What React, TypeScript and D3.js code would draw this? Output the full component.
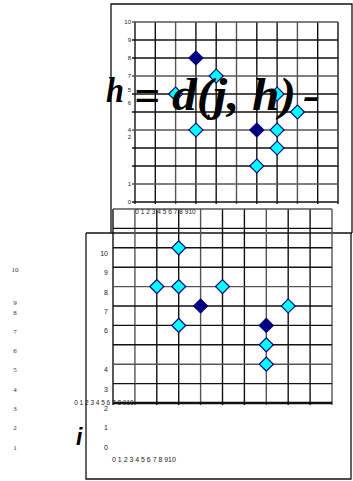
import { useEffect, useRef } from 'react'
import * as d3 from 'd3'

// top panel
const topTicks = [0, 1, 2, 3, 4, 5, 6, 7, 8, 9, 10]
const topYLabels = ['10', '9', '8', '7', '5', '6', '4', '2', '1', '0']
const topYLabelAt = [10, 9, 8, 7, 6.2, 5.5, 4, 3.6, 1, 0]
const topX = [3, 4, 2, 7, 8, 3, 6, 7, 7, 6]
const topY = [8, 7, 6, 6, 5, 4, 4, 4, 3, 2]
const topDark = [true, false, false, false, false, false, true, false, false, false]

// bottom panel
const botYLabels = ['10', '9', '8', '7', '6', '4', '3', '2', '1', '0']
const botYLabelAt = [10, 9, 8, 7, 6, 4, 3, 2, 1, 0]
const botGrid = [2, 3, 4, 5, 6, 7, 8, 9, 10, 11, 12]
const botX = [3, 2, 3, 4, 5, 3, 7, 7, 7, 8]
const botY = [10, 8, 8, 7, 8, 6, 6, 5, 4, 7]
const botDark = [false, false, false, true, false, false, true, false, false, false]

// stray left column
const leftLabels = ['10', '9', '8', '7', '6', '5', '4', '3', '2', '1']
const leftLabelAt = [10.2, 8.5, 8, 7, 6, 5, 4, 3, 2, 1]

const xLabelText = topTicks.map(String)

const App = () => {
  const ref = useRef(null)

  useEffect(() => {
    const width = 353
    const height = 481
    const svg = d3.select(ref.current)
    svg.selectAll('*').remove()
    svg.attr('width', width).attr('height', height)

    const ink = '#111'
    const sans = 'Liberation Sans, Arial, sans-serif'
    const serif = 'Liberation Serif, Times New Roman, serif'
    const diamond = d3.symbol(d3.symbolSquare, 98)

    const frame = (pts) => svg.append('path')
      .attr('d', d3.line()(pts))
      .attr('fill', 'none')
      .attr('stroke', ink)
      .attr('stroke-width', 1.3)

    // frames
    frame([[111, 233], [111, 4], [352, 4], [352, 233]])
    frame([[86, 233], [352, 233]])
    frame([[86, 233], [86, 479], [351, 479], [351, 233]])

    // ----- bottom chart grid (drawn first, sits under the top one)
    const bx = d3.scaleLinear().domain([0, 10]).range([113, 332])
    const by = d3.scaleLinear().domain([2, 12]).range([403, 209])

    svg.append('g').selectAll('line')
      .data(topTicks)
      .enter()
      .append('line')
      .attr('x1', d => bx(d))
      .attr('x2', d => bx(d))
      .attr('y1', by(12))
      .attr('y2', by(2) + 2)
      .attr('stroke', (d, i) => (i % 3 === 1 ? '#555' : ink))
      .attr('stroke-width', 1.4)

    svg.append('g').selectAll('line')
      .data(botGrid)
      .enter()
      .append('line')
      .attr('x1', bx(0))
      .attr('x2', bx(10))
      .attr('y1', d => by(d))
      .attr('y2', d => by(d))
      .attr('stroke', (d, i) => (i % 4 === 2 ? '#555' : ink))
      .attr('stroke-width', d => (d === 2 ? 2.4 : 1.4))

    svg.append('g').selectAll('text')
      .data(botYLabels)
      .enter()
      .append('text')
      .attr('x', 108)
      .attr('y', (d, i) => by(botYLabelAt[i]) + 8)
      .attr('text-anchor', 'end')
      .style('font-family', sans)
      .style('font-size', '7px')
      .style('fill', '#222')
      .text(d => d)

    svg.selectAll('path.bm')
      .data(botX)
      .enter()
      .append('path')
      .attr('d', diamond)
      .attr('transform', (d, i) => `translate(${bx(d)},${by(botY[i])}) rotate(45)`)
      .attr('fill', (d, i) => (botDark[i] ? '#000080' : '#00ffff'))
      .attr('stroke', '#000080')
      .attr('stroke-width', 1.2)

    // ----- top chart
    const tx = d3.scaleLinear().domain([0, 10]).range([135, 338])
    const ty = d3.scaleLinear().domain([0, 10]).range([202, 22])

    svg.append('rect')
      .attr('x', tx(0))
      .attr('y', ty(10))
      .attr('width', tx(10) - tx(0))
      .attr('height', ty(0) - ty(10))
      .attr('fill', 'white')

    svg.append('g').selectAll('line')
      .data(topTicks)
      .enter()
      .append('line')
      .attr('x1', d => tx(d))
      .attr('x2', d => tx(d))
      .attr('y1', ty(10))
      .attr('y2', ty(0) + 2)
      .attr('stroke', (d, i) => (i % 3 === 2 ? '#555' : ink))
      .attr('stroke-width', 1.4)

    svg.append('g').selectAll('line')
      .data(topTicks)
      .enter()
      .append('line')
      .attr('x1', tx(0) - 3)
      .attr('x2', tx(10))
      .attr('y1', d => ty(d))
      .attr('y2', d => ty(d))
      .attr('stroke', (d, i) => (i % 3 === 1 ? '#555' : ink))
      .attr('stroke-width', 1.4)

    svg.append('g').selectAll('text')
      .data(topYLabels)
      .enter()
      .append('text')
      .attr('x', 131)
      .attr('y', (d, i) => ty(topYLabelAt[i]) + 2)
      .attr('text-anchor', 'end')
      .style('font-family', sans)
      .style('font-size', '6px')
      .style('fill', '#222')
      .text(d => d)

    svg.selectAll('path.tm')
      .data(topX)
      .enter()
      .append('path')
      .attr('d', diamond)
      .attr('transform', (d, i) => `translate(${tx(d)},${ty(topY[i])}) rotate(45)`)
      .attr('fill', (d, i) => (topDark[i] ? '#000080' : '#00ffff'))
      .attr('stroke', '#000080')
      .attr('stroke-width', 1.2)

    // squeezed x tick label rows
    const xRow = (x0, x1, y, size) => {
      const s = d3.scalePoint().domain(xLabelText).range([x0, x1])
      svg.append('g').selectAll('text')
        .data(xLabelText)
        .enter()
        .append('text')
        .attr('x', d => s(d))
        .attr('y', y)
        .attr('text-anchor', 'middle')
        .style('font-family', sans)
        .style('font-size', `${size}px`)
        .style('fill', '#222')
        .text(d => d)
    }
    xRow(137, 192, 214, 6.5)
    xRow(76, 130, 405, 6.5)
    xRow(114, 172, 462, 7)

    // stray serif column on the left
    const ly = d3.scaleLinear().domain([1, 8]).range([447, 312])
    svg.append('g').selectAll('text')
      .data(leftLabels)
      .enter()
      .append('text')
      .attr('x', 15)
      .attr('y', (d, i) => ly(leftLabelAt[i]) + 2.5)
      .attr('text-anchor', 'middle')
      .style('font-family', serif)
      .style('font-size', '7px')
      .style('fill', '#333')
      .text(d => d)

    // formula fragments
    const bigText = (x, y, size, txt, len) => {
      const t = svg.append('text')
        .attr('x', x)
        .attr('y', y)
        .style('font-family', serif)
        .style('font-weight', 'bold')
        .style('font-style', 'italic')
        .style('font-size', `${size}px`)
        .text(txt)
      if (len) t.attr('textLength', len).attr('lengthAdjust', 'spacingAndGlyphs')
    }
    bigText(106, 102, 36, 'h', 18)
    bigText(134, 110, 44, '=', 26)
    bigText(172, 110, 46, 'd(j, h)', 124)
    bigText(303, 110, 44, '-', 17)

    svg.append('text')
      .attr('x', 76)
      .attr('y', 445)
      .style('font-family', sans)
      .style('font-weight', 'bold')
      .style('font-style', 'italic')
      .style('font-size', '23px')
      .text('i')
  }, [])

  return (
    <div style={{ position: 'absolute', left: 0, top: 0 }}>
      <svg ref={ref}></svg>
    </div>
  )
}

export default App
